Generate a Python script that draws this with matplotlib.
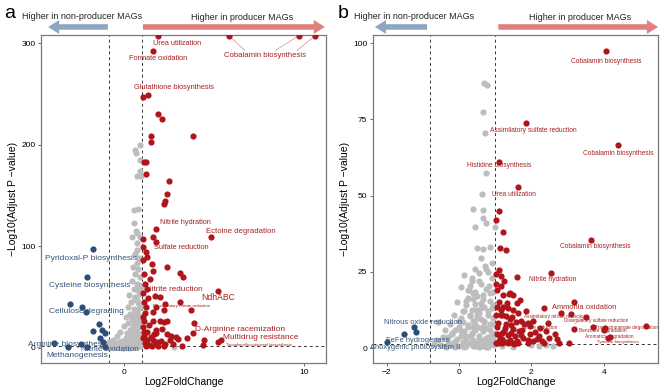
import numpy as np
import matplotlib
matplotlib.use('Agg')
import matplotlib.pyplot as plt

plt.rcParams['font.family'] = ['Liberation Sans', 'DejaVu Sans']

# ---------------- panel a data ----------------
a_red_x = [1.9, 5.8, 9.7, 10.6, 1.6, 1.06, 1.33, 1.9, 2.1, 1.5, 3.8, 1.5, 1.1, 1.2, 1.2,
           2.5, 2.4, 2.3, 2.2, 1.8, 1.6, 1.8, 1.05, 1.05, 4.8,
           1.2, 1.3, 1.05, 1.55, 2.4, 1.6, 3.1, 3.3, 1.15, 1.06, 1.35, 1.7, 2.0, 5.2, 3.1,
           3.7, 1.8, 2.3, 2.2, 1.6, 1.15, 1.1, 1.6, 2.0, 2.2, 2.4, 3.9, 3.8, 2.9, 3.5,
           2.4, 1.8, 1.3, 1.3, 1.6, 2.05, 2.55, 4.45, 5.2, 5.4, 4.4, 3.2, 2.2,
           1.05, 1.1, 1.15, 1.2, 1.4, 1.5, 1.7, 1.9, 1.05, 1.4, 1.75, 2.1, 2.6, 1.25,
           1.1, 1.3, 1.45, 1.1, 2.7, 3.0, 1.08, 1.25, 1.55, 1.85, 2.3, 1.12, 1.65]
a_red_y = [307.6, 307.6, 307.6, 307.6, 292, 247, 249, 230, 225, 209, 209, 203, 183, 183, 171,
           164, 152, 145, 142, 117, 109, 104, 107, 99, 109,
           94, 89, 86, 83, 80, 76, 74, 70, 63, 54, 49, 51, 50, 56, 45,
           37, 40, 43, 37, 35, 34, 26, 26, 26, 25, 26, 24, 15, 11, 10,
           14, 15, 16, 8, 8, 7, 8, 8, 6, 8, 3, 1.5, 1.5,
           20, 12, 5, 2, 3, 11, 4, 2, 30, 22, 18, 19, 12, 40,
           45, 58, 68, 73, 4, 9, 10, 6, 2, 6, 4, 16, 14]

a_blue_x = [-1.7, -2.05, -3.0, -2.3, -2.1, -1.4, -1.7, -1.2, -1.05, -3.9, -3.1, -2.4,
            -2.05, -1.15, -1.05, -1.3]
a_blue_y = [97, 70, 43, 40, 35, 23, 17, 18, 15, 5, 1, 4, 1, 6, 1, 10]

a_gray_x = [0.9, 0.6, 0.65, 0.9, 0.9, 0.7, 0.95, 0.55, 0.8, 0.55, 0.65, 0.75, 0.45, 0.9,
            0.7, 0.75, 0.6, 0.85, 0.7, 0.5, 0.8, 0.6, 0.9, 0.45, 0.7, 0.55, 0.85, 0.3,
            0.6, 0.75, 0.4, 0.9, 0.2, 0.55, 0.7, 0.35, 0.85, 0.1, 0.45, 0.65, 0.25, 0.8,
            0.0, 0.5, 0.35, 0.7, -0.2, 0.15, 0.9, 0.45, -0.4, 0.6, 0.1, 0.3, -0.6, 0.8,
            -0.1, 0.5, -0.8, 0.2, 0.7, -0.3, 0.0, 0.4, -0.5, 0.9, -0.7, 0.25, 0.6, -0.15,
            2.8, 0.95, 0.8, 0.6, 0.3, -0.05, -0.35, -0.55, 0.15, 0.5, 0.85, 0.75, 0.4,
            0.65, 0.95, 0.2, -0.25, -0.45, -0.7, 0.05, 0.35, 0.55, 0.9,
            0.85, 0.7, 0.9, 0.6, 0.8, 0.95, 0.75, 0.5, 0.65, 0.9, 0.55, 0.8, 0.4, 0.7,
            0.3, 0.6, 0.85, 0.2, 0.45, 0.75, -0.1, 0.1, 0.35, 0.55, -0.3, 0.0, 0.25, 0.5,
            -0.5, -0.2, 0.15, 0.4, 0.65, -0.6, -0.35, -0.05, 0.3, 0.7, -0.75, -0.45,
            0.05, 0.45, 0.8]
a_gray_y = [200, 195, 192, 185, 174, 169, 169, 136, 137, 123, 115, 113, 109, 109,
            103, 96, 92, 88, 84, 80, 78, 73, 70, 66, 63, 58, 55, 52,
            50, 47, 45, 42, 40, 38, 35, 33, 31, 30, 28, 26, 24, 22,
            21, 20, 18, 17, 16, 15, 14, 13, 12, 11, 10, 9, 8, 8,
            7, 6, 6, 5, 5, 4, 3, 3, 2, 2, 1.5, 1.5, 1, 0.8,
            0.5, 60, 38, 16, 12, 5, 2, 1, 8, 3, 24, 10, 7,
            20, 28, 2, 6, 4, 3, 1, 0.5, 1, 4,
            62, 58, 53, 48, 44, 40, 36, 32, 30, 27, 23, 20, 18, 14,
            12, 11, 9, 8, 6, 5, 4, 3.5, 3, 2.5, 2, 1.5, 1.2, 1,
            0.8, 0.6, 0.5, 0.4, 0.3, 0.5, 0.3, 0.2, 0.2, 0.4, 0.3, 0.6,
            0.7, 0.9, 1.5]

a_red_labels = ['Urea utilization', 'Cobalamin biosynthesis', 'Formate oxidation',
                'Glutathione biosynthesis', 'Nitrile hydration', 'Ectoine degradation',
                'Sulfate reduction', 'Nitrite reduction', 'NdhABC',
                'Dissimilatory nitrate reduction', 'D-Arginine racemization',
                'Multidrug resistance', 'Tocopherol/tocotorienol biosynthesis']
a_red_lab_x = [2.95, 7.8, 1.9, 2.8, 3.4, 6.5, 3.2, 2.8, 5.2, 3.2, 6.45, 7.6, 7.5]
a_red_lab_y = [300, 288, 285, 256, 123, 115, 99, 57, 50, 41, 18, 10, 3]
a_red_lab_fs = [5.3, 5.6, 5.3, 5.3, 5.3, 5.6, 5.3, 5.9, 6.2, 3.2, 6.0, 6.0, 3.0]

a_blue_labels = ['Pyridoxal-P biosynthesis', 'Cysteine biosynthesis', 'Cellulose degrading',
                 'Arginine biosynthesis', 'Nitrile oxidation', 'Methanogenesis']
a_blue_lab_x = [-1.8, -1.9, -2.05, -3.1, -0.8, -2.6]
a_blue_lab_y = [88, 61, 36, 3, -2, -8]

# ---------------- panel b data ----------------
b_red_x = [4.06, 1.85, 4.4, 1.1, 1.63, 1.1, 1.02, 1.22, 3.65, 1.13, 1.3,
           2.55, 1.1, 1.02, 1.16, 1.6, 1.02, 1.22, 1.41, 1.33, 1.68, 1.6, 1.16, 1.46,
           1.63, 1.91, 1.05, 1.38, 1.5, 1.2, 1.3, 1.4, 1.08, 1.18, 1.96, 1.77, 2.04,
           3.18, 2.35, 2.82, 3.1, 3.5, 2.04, 2.46, 2.24, 3.18, 3.7, 4.03, 4.0, 5.17,
           4.17, 4.12, 2.65, 2.7, 2.77, 3.05, 2.15, 2.5, 2.35, 1.66, 1.8, 1.05, 1.12,
           1.25, 1.35, 1.45, 1.55, 1.7, 1.1, 1.2, 1.3, 1.4, 1.5, 1.6, 1.9, 1.05, 1.15,
           1.28, 1.48, 1.02, 1.35, 2.4, 2.2,
           1.05, 1.15, 1.25, 1.35, 1.5, 1.7, 1.85, 1.1, 1.22, 1.45, 1.58, 1.75, 1.03,
           1.3, 1.42, 1.62, 1.95, 2.1, 1.08, 1.2, 1.52, 1.9, 2.3]
b_red_y = [97.4, 73.8, 66.5, 61, 52.8, 45, 42, 38, 35.4, 32.8, 32,
           24.6, 25.6, 24.3, 23.6, 23.3, 21, 17.4, 18, 14.8, 15.7, 14.8, 10.8, 10.2,
           11.5, 8.2, 7, 17.7, 17.5, 10.8, 10.5, 9.5, 8.2, 4.9, 7.2, 3.3, 2.3,
           15, 13.1, 11.5, 11.1, 10.2, 8.9, 8.2, 6.6, 6.2, 6.9, 6.6, 6.0, 7.2,
           3.6, 3.4, 4.6, 3, 1.7, 1.6, 3, 3.3, 1.7, 5.6, 7.9, 4.5, 3.2,
           5.5, 4.2, 5.0, 3.8, 4.4, 2.2, 3.0, 2.0, 2.6, 1.8, 2.4, 1.6, 13.5, 12.5,
           6.5, 6.2, 1.8, 1.5, 5.5, 4.0,
           19, 20.5, 22, 13, 12.5, 9, 12, 15, 13.5, 7.5, 8.5, 6, 11,
           8, 1.9, 1.6, 4.5, 5.2, 1.8, 1.6, 1.4, 2.8, 2.2]

b_blue_x = [-1.24, -1.52, -1.19, -1.99]
b_blue_y = [6.9, 4.6, 5.2, 2.0]

b_gray_x = [0.7, 0.77, 0.66, 0.72, 0.75, 0.64, 0.39, 0.66, 0.66, 0.74, 0.44, 0.99,
            0.5, 0.66, 0.85, 0.6, 0.72, 0.45, 0.55, 0.8, 0.35, 0.9, 0.3, 0.6, 0.75,
            0.4, 0.95, 0.25, 0.5, 0.65, 0.85, 0.2, 0.45, 0.7, 0.9, 0.15, 0.35, 0.55,
            0.8, 0.05, 0.3, 0.6, 0.95, 0.1, 0.4, 0.7, 0.85, 0.0, 0.25, 0.5, 0.75,
            -0.1, 0.15, 0.45, 0.65, 0.9, -0.2, 0.05, 0.35, 0.55, 0.8, -0.3, -0.05,
            0.2, 0.4, 0.6, 0.95, -0.44, -0.58, -0.15, 0.1, 0.3, 0.5, 0.7, 0.88, -0.7,
            -0.5, -0.25, 0.0, 0.2, 0.4, 0.6, 0.8, 0.98, -0.35, -0.1, 0.15, 0.55, 0.75,
            2.2, 2.4, 2.0, 1.5, 1.2, 2.6, 0.28, 0.48, 0.62, 0.82, 0.12,
            0.15, 0.35, 0.55, 0.75, 0.9, 0.05, 0.25, 0.45, 0.65, 0.85, -0.05, 0.2, 0.4,
            0.6, 0.8, 0.95, -0.15, 0.1, 0.3, 0.5, 0.7, 0.9, -0.25, 0.0, 0.25, 0.45,
            0.65, 0.85, -0.4, -0.2, 0.05, 0.35, 0.55, 0.75, 0.95, -0.6, -0.3, -0.1,
            0.15, 0.45, 0.7, 0.9, 0.3, 0.5, 0.6, 0.8, 0.4, 0.2]
b_gray_y = [86.9, 86.2, 77.4, 70.5, 57.4, 50.5, 45.6, 45.2, 42.6, 41, 39.6, 39.6,
            32.8, 32.4, 33.1, 29.5, 27, 26, 24.5, 25, 22, 23, 20.5, 21, 19.5,
            18, 18.5, 16.5, 17, 16, 15.5, 14, 14.5, 13.5, 13, 12, 12.5, 11.5,
            11, 10, 10.5, 9.5, 10, 8.5, 9, 8.5, 8, 7, 7.5, 7, 6.5,
            6, 5.5, 6, 5.5, 5, 4.5, 4, 4.5, 4, 3.5, 3.5, 3,
            3, 2.5, 2.8, 2.5, 3.6, 8.5, 2, 2, 1.8, 1.5, 1.6, 1.2, 1.2,
            1.0, 1.0, 0.8, 0.8, 0.6, 0.6, 0.5, 0.9, 0.4, 0.3, 0.3, 0.2, 0.3,
            0.7, 1.0, 0.9, 0.5, 0.6, 0.8, 19, 12.5, 14.8, 20.5, 5.2,
            24, 23, 22, 26, 28, 20, 19, 18.5, 17.5, 18, 15, 15.5, 16,
            13, 12, 14, 11, 12, 11, 10, 9, 8, 8, 9, 7, 8,
            7, 6, 6, 5, 5.5, 5, 3, 3.2, 4, 2.5, 2, 1.5,
            1.2, 0.8, 0.6, 1.3, 4, 11, 6.5, 2, 7, 4]

b_red_labels = ['Cobalamin biosynthesis', 'Assimilatory sulfate reduction',
                'Cobalamin biosynthesis', 'Histidine biosynthesis', 'Urea utilization',
                'Cobalamin biosynthesis', 'Nitrile hydration', 'Ammonia oxidation',
                'Assimilatory nitrate reduction', 'Dissimilatory sulfate reduction',
                'Nitrite reduction', 'Trans-cinnamate degradation',
                'Benzoate degradation', 'Aromatics degradation', 'Tyrosine biosynthesis']
b_red_lab_x = [4.06, 2.04, 4.39, 1.1, 1.52, 3.76, 2.6, 3.45, 2.65, 3.78, 2.24, 4.64,
               3.98, 4.14, 4.39]
b_red_lab_y = [94.1, 71.5, 63.9, 59.7, 50.5, 33.4, 22.6, 13.4, 10.2, 8.9, 6.6, 6.9,
               5.6, 3.9, 2.0]
b_red_lab_fs = [4.8, 4.8, 4.8, 4.8, 4.8, 4.8, 4.9, 5.4, 3.4, 3.4, 3.4, 3.4, 3.4, 3.4, 3.2]

b_blue_labels = ['Nitrous oxide reduction', 'FeFe hydrogenase', 'Anoxygenic photosystem II']
b_blue_lab_x = [-0.99, -1.13, -1.22]
b_blue_lab_y = [8.5, 2.6, 0.3]

RED = '#B0151C'
BLUE = '#2C4D78'
GRAY = '#BDBDBD'
RED_TXT = '#A62222'
BLUE_TXT = '#34557F'


def draw_panel(ax, rx, ry, bx, by, gx, gy, xlim, ylim, yticks, xticks, ms):
    ax.scatter(gx, gy, s=ms, c=GRAY, linewidths=0, zorder=2)
    ax.scatter(bx, by, s=ms, c=BLUE, linewidths=0, zorder=3)
    ax.scatter(rx, ry, s=ms, c=RED, linewidths=0, zorder=3)
    ax.axvline(-0.8, color='#333333', ls=(0, (3, 3)), lw=0.7, zorder=1)
    ax.axvline(1.0, color='#333333', ls=(0, (3, 3)), lw=0.7, zorder=1)
    ax.axhline(-np.log10(0.05), color='#333333', ls=(0, (3, 3)), lw=0.7, zorder=1)
    ax.set_xlim(xlim)
    ax.set_ylim(ylim)
    ax.set_xticks(xticks)
    ax.set_yticks(yticks)
    for s in ax.spines.values():
        s.set_color('#7a7a7a')
        s.set_linewidth(0.9)
    ax.tick_params(length=2.5, width=0.6, color='#555555', labelsize=6, pad=1.5)
    ax.set_xlabel('Log2FoldChange', fontsize=7.5, labelpad=1)
    ax.set_ylabel('\u2212Log10(Adjust P \u2212value)', fontsize=7.5, labelpad=2)


def arrows(ax, bl, br, rl, rr, tb, tr):
    style = 'simple,head_width=1.0,head_length=0.8,tail_width=0.4'
    ax.annotate('', xy=(bl, 1.025), xytext=(br, 1.025), xycoords='axes fraction',
                textcoords='axes fraction', annotation_clip=False,
                arrowprops=dict(arrowstyle=style, color='#8FA6C2', lw=0, shrinkA=0, shrinkB=0))
    ax.annotate('', xy=(rr, 1.025), xytext=(rl, 1.025), xycoords='axes fraction',
                textcoords='axes fraction', annotation_clip=False,
                arrowprops=dict(arrowstyle=style, color='#E27F7F', lw=0, shrinkA=0, shrinkB=0))
    ax.text(tb, 1.058, 'Higher in non-producer MAGs', transform=ax.transAxes,
            ha='center', va='center', fontsize=6.5, color='#222222')
    ax.text(tr, 1.053, 'Higher in producer MAGs', transform=ax.transAxes,
            ha='center', va='center', fontsize=6.5, color='#222222')


fig = plt.figure(figsize=(6.6, 3.88), dpi=100)
ax1 = fig.add_axes([0.062, 0.0644, 0.432, 0.845])
ax2 = fig.add_axes([0.565, 0.0644, 0.432, 0.845])

draw_panel(ax1, a_red_x, a_red_y, a_blue_x, a_blue_y, a_gray_x, a_gray_y,
           (-4.6, 11.2), (-15, 308), [0, 100, 200, 300], [0, 10], 20)
draw_panel(ax2, b_red_x, b_red_y, b_blue_x, b_blue_y, b_gray_x, b_gray_y,
           (-2.38, 5.5), (-4.9, 102.6), [0, 25, 50, 75, 100], [-2, 0, 2, 4], 20)

for t, x, y, fs in zip(a_red_labels, a_red_lab_x, a_red_lab_y, a_red_lab_fs):
    ax1.text(x, y, t, color=RED_TXT, fontsize=fs, ha='center', va='center', zorder=4)
for t, x, y in zip(a_blue_labels, a_blue_lab_x, a_blue_lab_y):
    ax1.text(x, y, t, color=BLUE_TXT, fontsize=6, ha='center', va='center', zorder=4)
for t, x, y, fs in zip(b_red_labels, b_red_lab_x, b_red_lab_y, b_red_lab_fs):
    ax2.text(x, y, t, color=RED_TXT, fontsize=fs, ha='center', va='center', zorder=4)
for t, x, y in zip(b_blue_labels, b_blue_lab_x, b_blue_lab_y):
    ax2.text(x, y, t, color=BLUE_TXT, fontsize=5.4, ha='center', va='center', zorder=4)

# repel segments for the capped Cobalamin points in panel a
for px, lx in zip(a_red_x[1:4], [6.7, 8.4, 9.6]):
    ax1.plot([px, lx], [a_red_y[1], 293], color='#D98C8C', lw=0.5, zorder=1)
ax2.plot([3.5, 3.2], [10.2, 8.0], color='#D98C8C', lw=0.5, zorder=1)

arrows(ax1, 0.025, 0.235, 0.358, 0.996, 0.144, 0.705)
arrows(ax2, 0.007, 0.19, 0.44, 1.0, 0.144, 0.726)

fig.text(0.006, 0.965, 'a', fontsize=14, va='center')
fig.text(0.512, 0.965, 'b', fontsize=14, va='center')

fig.savefig('out.png', dpi=100)
